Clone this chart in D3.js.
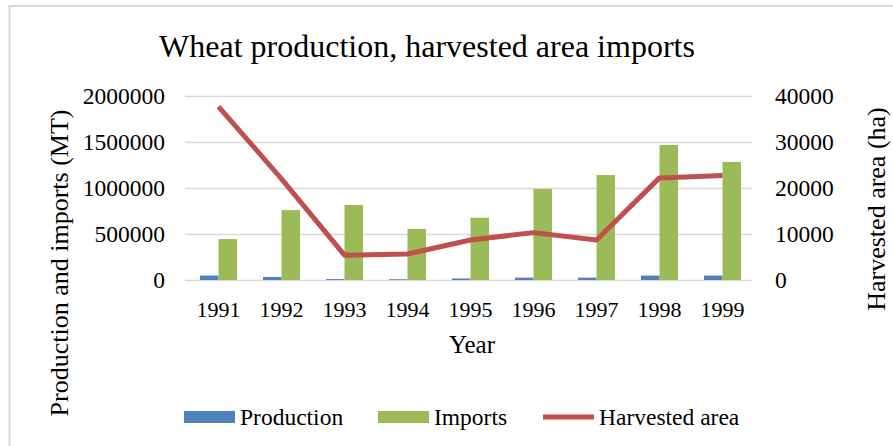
<!DOCTYPE html>
<html>
<head>
<meta charset="utf-8">
<script src="https://cdn.jsdelivr.net/npm/d3@7"></script>
<style>
  html, body { margin: 0; padding: 0; background: #ffffff; }
  svg, svg text { font-family: "Liberation Serif", "Times New Roman", serif !important; }
  .tick line { stroke: #d9d9d9; stroke-width: 1.5; }
  .domain { display: none; }
</style>
</head>
<body>
<svg id="chart" width="893" height="446"></svg>
<script>
// Wheat data, 1991–1999
const years = ["1991", "1992", "1993", "1994", "1995", "1996", "1997", "1998", "1999"];
const production = [48000, 33000, 10000, 8000, 17000, 26000, 26000, 48000, 48000];          // MT
const imports = [445000, 760000, 815000, 555000, 677000, 989000, 1141000, 1467000, 1283000]; // MT
const harvestedArea = [37700, 22000, 5400, 5650, 8700, 10300, 8700, 22200, 22700];         // ha
const leftTicks = [0, 500000, 1000000, 1500000, 2000000];
const rightTicks = [0, 10000, 20000, 30000, 40000];
const seriesNames = ["Production", "Imports", "Harvested area"];
const colors = { "Production": "#4f81bd", "Imports": "#9bbb59", "Harvested area": "#c0504d" };

const serif = '"Liberation Serif", "Times New Roman", serif';
const svg = d3.select("#chart");

// outer chart frame
svg.append("rect")
  .attr("x", 9.5).attr("y", 6).attr("width", 1000).attr("height", 1000)
  .attr("fill", "none").attr("stroke", "#d9d9d9").attr("stroke-width", 2);

const plot = { left: 187, right: 754, top: 96, bottom: 280 };

const x = d3.scaleBand().domain(years).range([plot.left, plot.right]).paddingInner(0.413).paddingOuter(0.2065);
const xSub = d3.scaleBand().domain(["Production", "Imports"]).range([0, x.bandwidth()]);
const yLeft = d3.scaleLinear().domain([0, 2000000]).range([plot.bottom, plot.top]);
const yRight = d3.scaleLinear().domain([0, 40000]).range([plot.bottom, plot.top]);

function styleTicks(g, size) {
  g.attr("font-family", null).attr("font-size", null);
  g.selectAll("text").style("font-family", serif).style("font-size", size).attr("fill", "#000");
}

// left axis with gridlines
const gLeft = svg.append("g")
  .attr("transform", `translate(${plot.left - 2},0)`)
  .call(d3.axisLeft(yLeft).tickValues(leftTicks).tickFormat(d3.format("d"))
    .tickSize(-(plot.right - plot.left)).tickPadding(20));
styleTicks(gLeft, "23.5px");

// right axis
const gRight = svg.append("g")
  .attr("transform", `translate(${plot.right - 2},0)`)
  .call(d3.axisRight(yRight).tickValues(rightTicks).tickFormat(d3.format("d"))
    .tickSize(0).tickPadding(23));
styleTicks(gRight, "23.5px");

// category axis
const gX = svg.append("g")
  .attr("transform", `translate(0,${plot.bottom})`)
  .call(d3.axisBottom(x).tickSize(0).tickPadding(21));
styleTicks(gX, "22px");

// bars
const bars = svg.append("g");
const barSeries = [["Production", production], ["Imports", imports]];
barSeries.forEach(([name, vals]) => {
  bars.selectAll(null).data(years).enter().append("rect")
    .attr("x", (d) => x(d) + xSub(name))
    .attr("width", xSub.bandwidth())
    .attr("y", (d, i) => yLeft(vals[i]))
    .attr("height", (d, i) => yLeft(0) - yLeft(vals[i]))
    .attr("fill", colors[name]);
});

// harvested area line (secondary axis)
const line = d3.line()
  .x((d, i) => x(years[i]) + x.bandwidth() / 2)
  .y((d) => yRight(d));
svg.append("path").datum(harvestedArea)
  .attr("d", line).attr("fill", "none")
  .attr("stroke", colors["Harvested area"]).attr("stroke-width", 5)
  .attr("stroke-linejoin", "round");

function label(sel, size) {
  return sel.style("font-family", serif).style("font-size", size).attr("fill", "#000");
}

// title
label(svg.append("text"), "32px").attr("x", 427).attr("y", 57).attr("text-anchor", "middle")
  .text("Wheat production, harvested area imports");

// axis titles
label(svg.append("text"), "25px").attr("x", 472).attr("y", 353).attr("text-anchor", "middle")
  .text("Year");
label(svg.append("text"), "26px").attr("transform", "translate(68,263) rotate(-90)")
  .attr("text-anchor", "middle").text("Production and imports (MT)");
label(svg.append("text"), "26px").attr("transform", "translate(885,209) rotate(-90)")
  .attr("text-anchor", "middle").text("Harvested area (ha)");

// legend
const legendX = [184, 378, 543];
const legend = svg.append("g");
seriesNames.forEach((name, i) => {
  const lx = legendX[i];
  if (name === "Harvested area") {
    legend.append("line").attr("x1", lx).attr("x2", lx + 51).attr("y1", 417).attr("y2", 417)
      .attr("stroke", colors[name]).attr("stroke-width", 5);
  } else {
    legend.append("rect").attr("x", lx).attr("y", 411).attr("width", 51).attr("height", 12)
      .attr("fill", colors[name]);
  }
  label(legend.append("text"), "23.5px").attr("x", lx + 56).attr("y", 425).text(name);
});
</script>
</body>
</html>
